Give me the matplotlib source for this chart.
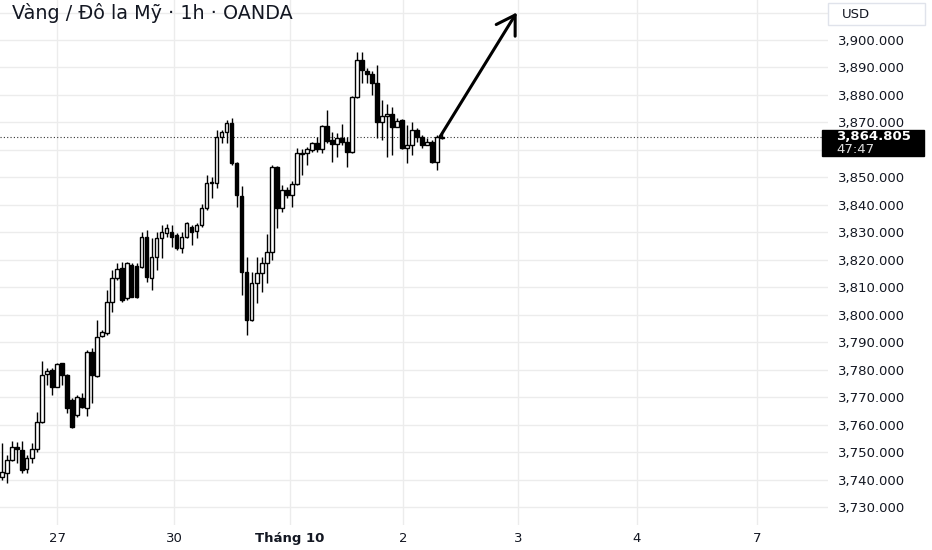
# Gold / USD 1h candlestick chart (TradingView style)

import matplotlib
matplotlib.use("Agg")
import matplotlib.pyplot as plt
from matplotlib.patches import Rectangle

# Step 1: data (one value per hourly bar)
opens = [3741.0, 3742.5, 3747.3, 3752.0, 3750.9, 3743.9, 3747.9, 3751.2, 3761.2, 3778.5,
         3779.8, 3773.9, 3782.4, 3778.2, 3769.1, 3763.6, 3769.7, 3766.1, 3786.7, 3777.8,
         3792.4, 3793.3, 3804.8, 3813.3, 3817.0, 3806.1, 3818.2, 3817.9, 3817.6, 3828.5,
         3813.3, 3821.2, 3827.9, 3829.7, 3830.1, 3829.1, 3824.3, 3828.5, 3832.1, 3830.7,
         3832.7, 3838.8, 3847.9, 3847.9, 3864.8, 3866.7, 3869.7, 3855.2, 3843.3, 3815.7,
         3798.2, 3811.7, 3815.2, 3818.8, 3823.0, 3853.7, 3838.8, 3845.5, 3843.6, 3847.6,
         3859.0, 3859.0, 3860.0, 3862.7, 3860.3, 3868.7, 3863.5, 3862.1, 3864.5, 3863.0,
         3859.2, 3879.4, 3892.7, 3888.7, 3887.5, 3884.3, 3870.3, 3872.5, 3873.0, 3868.5,
         3870.9, 3860.6, 3861.8, 3867.3, 3864.8, 3861.8, 3863.0, 3855.7, 3864.5]
highs = [3753.5, 3749.1, 3754.3, 3753.9, 3754.3, 3749.1, 3753.3, 3764.8, 3783.4, 3780.6,
         3780.6, 3782.7, 3782.7, 3778.6, 3769.7, 3770.9, 3771.5, 3787.3, 3787.9, 3798.2,
         3794.5, 3809.1, 3816.4, 3818.9, 3819.4, 3819.4, 3819.0, 3818.8, 3830.3, 3830.9,
         3827.9, 3830.3, 3832.7, 3833.1, 3832.7, 3829.7, 3830.3, 3833.9, 3832.7, 3833.3,
         3840.4, 3850.9, 3850.3, 3867.3, 3867.3, 3870.9, 3871.5, 3855.7, 3846.9, 3821.2,
         3815.6, 3821.2, 3821.2, 3829.5, 3854.5, 3854.0, 3847.3, 3846.7, 3848.8, 3860.6,
         3860.3, 3861.2, 3863.0, 3864.8, 3869.1, 3874.5, 3866.5, 3866.1, 3869.3, 3864.8,
         3879.6, 3895.7, 3895.5, 3889.7, 3888.7, 3890.9, 3878.2, 3876.6, 3875.7, 3871.5,
         3871.3, 3869.1, 3870.3, 3868.0, 3865.5, 3864.3, 3863.6, 3865.5, 3866.0]
lows = [3740.0, 3738.9, 3746.7, 3746.1, 3742.4, 3742.4, 3746.1, 3750.3, 3760.6, 3774.5,
        3770.9, 3773.7, 3774.5, 3764.3, 3759.0, 3763.0, 3766.1, 3763.3, 3767.9, 3777.6,
        3791.9, 3792.7, 3801.2, 3812.7, 3804.8, 3805.5, 3806.4, 3806.1, 3817.0, 3812.1,
        3809.1, 3816.4, 3820.6, 3828.5, 3824.8, 3823.6, 3822.4, 3827.9, 3825.5, 3827.9,
        3832.1, 3838.2, 3842.4, 3846.1, 3862.4, 3862.4, 3854.5, 3839.4, 3807.3, 3792.7,
        3797.8, 3804.3, 3808.5, 3811.5, 3820.0, 3831.5, 3837.6, 3842.4, 3839.4, 3847.3,
        3850.9, 3854.5, 3859.4, 3859.4, 3858.8, 3862.4, 3855.7, 3857.6, 3861.8, 3853.9,
        3858.9, 3878.8, 3884.3, 3884.3, 3880.0, 3864.3, 3863.6, 3857.6, 3858.2, 3868.3,
        3860.3, 3855.2, 3858.2, 3863.0, 3860.6, 3861.8, 3855.3, 3852.7, 3864.0]
closes = [3742.7, 3747.3, 3752.1, 3751.3, 3743.6, 3747.9, 3751.2, 3761.2, 3778.2, 3779.7,
          3773.9, 3782.2, 3778.2, 3766.1, 3759.4, 3770.3, 3766.7, 3786.7, 3778.2, 3792.1,
          3793.9, 3804.8, 3813.3, 3816.6, 3805.5, 3818.8, 3806.7, 3806.7, 3828.5, 3813.9,
          3821.2, 3827.9, 3830.1, 3831.5, 3828.5, 3824.3, 3828.5, 3833.3, 3830.3, 3832.7,
          3838.8, 3847.9, 3848.5, 3864.8, 3866.7, 3869.7, 3855.2, 3843.6, 3815.7, 3798.2,
          3811.7, 3815.2, 3818.8, 3823.0, 3853.7, 3838.8, 3845.5, 3843.6, 3847.6, 3858.8,
          3858.4, 3860.3, 3862.7, 3860.3, 3868.7, 3863.4, 3862.0, 3864.5, 3863.0, 3859.2,
          3879.4, 3892.7, 3889.1, 3887.5, 3884.3, 3870.3, 3872.5, 3873.0, 3868.5, 3870.5,
          3860.6, 3861.8, 3867.3, 3864.8, 3861.8, 3863.0, 3855.7, 3864.8, 3864.805]

# day separators (bar index where each day label sits) and their labels
day_ticks = [11.06, 34.46, 57.66, 80.26, 103.26, 127.06, 151.06]
day_labels = ["27", "30", "Tháng 10", "2", "3", "4", "7"]

# projected move drawn on the chart: (bar, price) start -> end
arrow_start = (87.66, 3864.8)
arrow_end = (103.0, 3910.0)

last_price = closes[-1]
countdown = "47:47"

# Step 2: figure and axes laid out like the TradingView pane
plt.rcParams['font.family'] = ['DejaVu Sans']
fig = plt.figure(figsize=(9.32, 5.5), dpi=100)
ax = fig.add_axes([0, 25 / 550, 828 / 932, 525 / 550])

# grid
price_levels = list(range(3730, 3911, 10))
ax.set_yticks(price_levels)
ax.set_yticklabels(["" if p in (3860, 3910) else f"{p:,.3f}" for p in price_levels])
ax.set_xticks(day_ticks)
ax.set_xticklabels(day_labels)
for lbl in ax.get_xticklabels():
    if lbl.get_text() == "Tháng 10":
        lbl.set_fontweight("bold")
ax.grid(True, color="#ececec", linewidth=1)
ax.set_axisbelow(True)
ax.yaxis.tick_right()
ax.tick_params(axis="y", length=0, pad=7, labelsize=9.5, labelcolor="#131722")
ax.tick_params(axis="x", length=0, pad=5, labelsize=9.5, labelcolor="#131722")
for s in ax.spines.values():
    s.set_visible(False)

# Step 3: candles
idx = list(range(len(opens)))
ax.vlines(idx, lows, highs, color="black", linewidth=1, zorder=2)
bottoms = [min(o, c) for o, c in zip(opens, closes)]
heights = [max(abs(c - o), 0.35) for o, c in zip(opens, closes)]
fills = ["white" if c >= o else "black" for o, c in zip(opens, closes)]
ax.bar(idx, heights, bottom=bottoms, width=0.72, color=fills,
       edgecolor="black", linewidth=1, zorder=3)

# current price dotted line
ax.axhline(last_price, color="#333333", linestyle=(0, (1, 2)), linewidth=0.8, zorder=1)

# projection arrow
ax.annotate("", xy=arrow_end, xytext=arrow_start,
            arrowprops=dict(arrowstyle="->,head_length=0.65,head_width=0.4",
                            color="black", lw=2.2, mutation_scale=20,
                            shrinkA=0, shrinkB=0), zorder=4)

# limits last, so the tick setters cannot widen them
ax.set_xlim(-0.34, 165.26)
ax.set_ylim(3723.6, 3914.55)

# Step 4: labels outside the pane
fig.text(12 / 932, 1 - 13 / 550, "Vàng / Đô la Mỹ · 1h · OANDA",
         fontsize=13.8, color="#131722", va="center", ha="left")

fig.patches.append(Rectangle((828 / 932, 1 - 25 / 550), 97 / 932, 22 / 550,
                             transform=fig.transFigure, facecolor="white",
                             edgecolor="#e0e3eb", linewidth=1, zorder=5))
fig.text(842 / 932, 1 - 14 / 550, "USD", fontsize=9.5, color="#131722",
         va="center", ha="left", zorder=6)

fig.patches.append(Rectangle((822 / 932, 1 - 156 / 550), 102 / 932, 26 / 550,
                             transform=fig.transFigure, facecolor="black",
                             edgecolor="black", zorder=5))
fig.text(836 / 932, 1 - 136.5 / 550, f"{last_price:,.3f}", fontsize=9.5,
         color="white", va="center", ha="left", fontweight="bold", zorder=6)
fig.text(836 / 932, 1 - 149 / 550, countdown, fontsize=9.5,
         color="#dddddd", va="center", ha="left", zorder=6)

plt.savefig("out.png", dpi=100)
